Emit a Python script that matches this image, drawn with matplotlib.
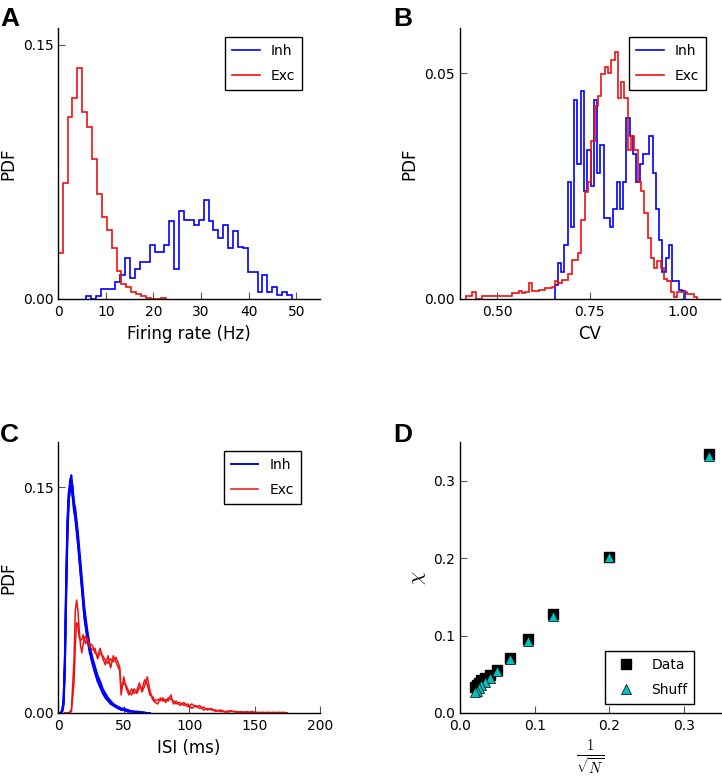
import numpy as np
import matplotlib
matplotlib.use("Agg")
import matplotlib.pyplot as plt

plt.rcParams['font.family'] = ['DejaVu Sans']
plt.rcParams['mathtext.fontset'] = 'cm'

# ---------------- Panel A: firing rate histograms ----------------
fr_bin_width = 1.03
fr_exc_start = -0.12
fr_exc_pdf = [0.0274, 0.0685, 0.1076, 0.1188, 0.1366, 0.1105, 0.1016, 0.0827, 0.0622,
              0.0487, 0.0409, 0.0300, 0.0168, 0.0089, 0.0069, 0.0043, 0.0030, 0.0020,
              0.0008, 0.0, 0.0, 0.0008]
fr_inh_start = 5.82
fr_inh_pdf = [0.002, 0.0, 0.002, 0.006, 0.006, 0.006, 0.0103, 0.0142, 0.024, 0.0122,
              0.018, 0.022, 0.022, 0.032, 0.028, 0.028, 0.032, 0.046, 0.018, 0.052,
              0.0468, 0.0468, 0.0438, 0.0468, 0.0582, 0.046, 0.0408, 0.0359, 0.0438,
              0.0304, 0.0399, 0.0306, 0.030, 0.0162, 0.0162, 0.004, 0.0142, 0.004,
              0.0069, 0.0024, 0.004, 0.0024]

# ---------------- Panel B: CV histograms ----------------
cv_exc_start = 0.416
cv_exc_width = 0.0089
cv_exc_pdf = [0.0007, 0.0007, 0.0016, 0.0, 0.0, 0.0007, 0.0007, 0.0007, 0.0007, 0.0007,
              0.0007, 0.0007, 0.0007, 0.0007, 0.0013, 0.0013, 0.0018, 0.0013, 0.0016, 0.0036,
              0.0018, 0.0018, 0.0020, 0.0020, 0.0024, 0.0024, 0.0027, 0.0040, 0.0036, 0.0042,
              0.0042, 0.0055, 0.0087, 0.0087, 0.0101, 0.0176, 0.0238, 0.0260, 0.0350, 0.0428,
              0.0450, 0.0498, 0.0513, 0.0500, 0.0530, 0.0547, 0.0446, 0.0480, 0.0446, 0.0330,
              0.0360, 0.0330, 0.0260, 0.0240, 0.0190, 0.0135, 0.0090, 0.0068, 0.0085, 0.0068,
              0.0044, 0.0039, 0.0015, 0.0005, 0.0016, 0.0016, 0.0016, 0.0012, 0.0012, 0.0005]
cv_inh_start = 0.655
cv_inh_width = 0.0088
cv_inh_pdf = [0.003, 0.008, 0.006, 0.012, 0.026, 0.016, 0.044, 0.030, 0.046, 0.024,
              0.033, 0.025, 0.044, 0.028, 0.034, 0.018, 0.018, 0.016, 0.020, 0.026,
              0.020, 0.026, 0.040, 0.036, 0.032, 0.026, 0.030, 0.032, 0.032, 0.036,
              0.028, 0.020, 0.013, 0.006, 0.009, 0.012, 0.004, 0.004, 0.002, 0.0017]

# ---------------- Panel C: ISI distributions ----------------
isi_inh_t = [0, 2, 3, 4, 5, 6, 7, 8, 9, 10, 11, 12, 13, 14, 15, 16, 17, 18, 19, 20,
             22, 24, 26, 28, 30, 32, 34, 36, 38, 40, 42, 44, 46, 48, 50, 53, 56, 60, 64, 68, 70]
isi_inh_1 = [0, 0, 0.001, 0.006, 0.030, 0.080, 0.122, 0.145, 0.155, 0.158, 0.148, 0.140, 0.136,
             0.128, 0.120, 0.110, 0.100, 0.090, 0.080, 0.070, 0.056, 0.045, 0.037, 0.031, 0.025,
             0.021, 0.016, 0.013, 0.010, 0.008, 0.006, 0.005, 0.004, 0.003, 0.003, 0.002, 0.001,
             0.001, 0.0005, 0, 0]
isi_inh_2 = [0, 0, 0.002, 0.009, 0.038, 0.090, 0.130, 0.147, 0.150, 0.151, 0.143, 0.134, 0.131,
             0.125, 0.116, 0.106, 0.096, 0.086, 0.076, 0.066, 0.054, 0.043, 0.035, 0.029, 0.024,
             0.019, 0.015, 0.012, 0.009, 0.007, 0.006, 0.004, 0.003, 0.003, 0.002, 0.002, 0.001,
             0.0005, 0, 0, 0]
isi_inh_3 = [0, 0, 0.001, 0.005, 0.026, 0.074, 0.116, 0.140, 0.152, 0.155, 0.150, 0.138, 0.133,
             0.124, 0.113, 0.104, 0.094, 0.084, 0.074, 0.064, 0.052, 0.042, 0.034, 0.027, 0.022,
             0.018, 0.014, 0.011, 0.009, 0.007, 0.005, 0.004, 0.004, 0.002, 0.002, 0.001, 0.001,
             0.0005, 0.0005, 0, 0]
isi_inh_4 = [0, 0, 0.002, 0.008, 0.034, 0.085, 0.125, 0.142, 0.148, 0.150, 0.144, 0.136, 0.128,
             0.120, 0.112, 0.102, 0.092, 0.082, 0.072, 0.062, 0.050, 0.040, 0.033, 0.027, 0.021,
             0.017, 0.013, 0.010, 0.008, 0.006, 0.005, 0.004, 0.003, 0.002, 0.002, 0.001, 0.001,
             0.0005, 0, 0, 0]

isi_exc_t = [5, 8, 10, 12, 13, 14, 15, 16, 17, 18, 19, 20, 21, 22,
             24, 26, 28, 30, 32, 34, 36, 38, 40, 42, 44, 46, 47, 48,
             50, 52, 54, 56, 58, 60, 62, 64, 66, 68, 70, 72, 74, 76, 78, 80, 82, 84, 86, 88, 90,
             93, 96, 99, 102, 105, 108, 111, 114, 117, 120,
             124, 128, 132, 136, 140, 144, 148, 152, 156, 160, 164, 168, 172, 175]
isi_exc_1 = [0, 0, 0.002, 0.035, 0.068, 0.075, 0.068, 0.055, 0.045, 0.040, 0.046, 0.050, 0.051, 0.048,
             0.046, 0.045, 0.040, 0.038, 0.043, 0.036, 0.032, 0.038, 0.030, 0.038, 0.034, 0.030, 0.028, 0.012,
             0.024, 0.016, 0.012, 0.016, 0.013, 0.015, 0.020, 0.014, 0.018, 0.024, 0.015, 0.009, 0.007,
             0.006, 0.010, 0.008, 0.009, 0.008, 0.012, 0.006, 0.008,
             0.005, 0.007, 0.004, 0.006, 0.004, 0.005, 0.002, 0.003, 0.002, 0.002,
             0.001, 0.001, 0.0015, 0.0005, 0.001, 0, 0.001, 0, 0.0005, 0, 0.0005, 0, 0.0005, 0]
isi_exc_2 = [0, 0, 0.001, 0.020, 0.045, 0.060, 0.058, 0.050, 0.048, 0.049, 0.052, 0.048, 0.046, 0.050,
             0.044, 0.042, 0.043, 0.036, 0.040, 0.038, 0.035, 0.033, 0.036, 0.034, 0.037, 0.033, 0.030, 0.016,
             0.020, 0.018, 0.014, 0.012, 0.016, 0.013, 0.017, 0.016, 0.022, 0.019, 0.012, 0.011, 0.008,
             0.009, 0.008, 0.010, 0.007, 0.010, 0.009, 0.008, 0.006,
             0.007, 0.005, 0.006, 0.003, 0.005, 0.003, 0.004, 0.002, 0.003, 0.001,
             0.002, 0.0005, 0.001, 0.001, 0, 0.001, 0, 0.0005, 0, 0.0005, 0, 0.0005, 0, 0]

# ---------------- Panel D: chi vs 1/sqrt(N) ----------------
inv_sqrt_n = [0.333, 0.2, 0.125, 0.0909, 0.0667, 0.05, 0.04, 0.0333, 0.0286, 0.025, 0.0222, 0.02]
chi_data = [0.334, 0.201, 0.128, 0.095, 0.071, 0.056, 0.049, 0.045, 0.042, 0.039, 0.036, 0.033]
chi_shuff = [0.332, 0.201, 0.125, 0.093, 0.070, 0.054, 0.045, 0.040, 0.036, 0.032, 0.029, 0.027]

BLUE = '#0000ff'
RED = '#ee1111'
CYAN = '#00bfbf'

W, H = 722, 780
fig = plt.figure(figsize=(W / 100, H / 100), dpi=100)


def px_axes(x0, x1, ytop, ybot):
    return fig.add_axes([x0 / W, 1 - ybot / H, (x1 - x0) / W, (ybot - ytop) / H])


def style(ax):
    for s in ('top', 'right'):
        ax.spines[s].set_visible(False)
    for s in ('left', 'bottom'):
        ax.spines[s].set_linewidth(1.0)
    ax.tick_params(direction='in', length=5, width=0.8, color='#555555',
                   labelsize=10, top=False, right=False)
    ax.tick_params(axis='x', pad=4.5)
    ax.tick_params(axis='y', pad=3.5)


def legend(ax, anchor=(1, 1), loc='upper right', **kw):
    lg = ax.legend(loc=loc, bbox_to_anchor=anchor, borderaxespad=0, fancybox=False,
                   edgecolor='black', framealpha=1, fontsize=10, borderpad=0.5,
                   labelspacing=0.8, handlelength=2.0, handletextpad=0.8, **kw)
    lg.get_frame().set_linewidth(1.0)
    return lg


def edges(start, width, n):
    return start + width * np.arange(n + 1)


# Panel A
axA = px_axes(58.3, 320, 28, 299)
axA.stairs(fr_inh_pdf, edges(fr_inh_start, fr_bin_width, len(fr_inh_pdf)),
           color=BLUE, lw=1.2, label='Inh')
axA.stairs(fr_exc_pdf, edges(fr_exc_start, fr_bin_width, len(fr_exc_pdf)),
           color=RED, lw=1.2, label='Exc')
axA.set_xlim(0, 55)
axA.set_ylim(0, 0.16)
axA.set_xticks([0, 10, 20, 30, 40, 50])
axA.set_yticks([0.0, 0.15])
axA.set_yticklabels(['0.00', '0.15'])
axA.set_xlabel('Firing rate (Hz)', fontsize=12)
axA.set_ylabel('PDF', fontsize=12, labelpad=4)
style(axA)
legend(axA, anchor=(0.931, 0.967))

# Panel B
axB = px_axes(459.9, 719.8, 28, 299)
axB.stairs(cv_inh_pdf, edges(cv_inh_start, cv_inh_width, len(cv_inh_pdf)),
           color=BLUE, lw=1.2, label='Inh')
axB.stairs(cv_exc_pdf, edges(cv_exc_start, cv_exc_width, len(cv_exc_pdf)),
           color=RED, lw=1.2, label='Exc')
axB.set_xlim(0.4, 1.1)
axB.set_ylim(0, 0.06)
axB.set_xticks([0.5, 0.75, 1.0])
axB.set_xticklabels(['0.50', '0.75', '1.00'])
axB.set_yticks([0.0, 0.05])
axB.set_yticklabels(['0.00', '0.05'])
axB.set_xlabel('CV', fontsize=12)
axB.set_ylabel('PDF', fontsize=12, labelpad=4)
style(axB)
legend(axB, anchor=(0.947, 0.966))

# Panel C
axC = px_axes(58.3, 320, 442, 713)
for i, tr in enumerate([isi_inh_1, isi_inh_2, isi_inh_3, isi_inh_4]):
    axC.plot(isi_inh_t, tr, color=BLUE, lw=1.4, label='Inh' if i == 0 else None)
for i, tr in enumerate([isi_exc_1, isi_exc_2]):
    axC.plot(isi_exc_t, tr, color=RED, lw=1.1, label='Exc' if i == 0 else None)
axC.set_xlim(0, 200)
axC.set_ylim(0, 0.18)
axC.set_xticks([0, 50, 100, 150, 200])
axC.set_yticks([0.0, 0.15])
axC.set_yticklabels(['0.00', '0.15'])
axC.set_xlabel('ISI (ms)', fontsize=12)
axC.set_ylabel('PDF', fontsize=12, labelpad=4)
style(axC)
legend(axC, anchor=(0.927, 0.967))

# Panel D
axD = px_axes(460, 721.3, 442, 713)
axD.plot(inv_sqrt_n, chi_data, linestyle='none', marker='s', ms=7.5, mfc='black',
         mec='black', label='Data')
axD.plot(inv_sqrt_n, chi_shuff, linestyle='none', marker='^', ms=7.5, mfc=CYAN,
         mec='black', mew=0.5, label='Shuff')
axD.set_xlim(0, 0.35)
axD.set_ylim(0, 0.35)
axD.set_xticks([0.0, 0.1, 0.2, 0.3])
axD.set_yticks([0.0, 0.1, 0.2, 0.3])
axD.set_xlabel(r'$\frac{1}{\sqrt{N}}$', fontsize=15)
axD.set_ylabel(r'$\chi$', fontsize=15)
style(axD)
legend(axD, anchor=(0.897, 0.033), loc='lower right', numpoints=1)

# Panel letters
for (x, y, s) in [(0, 26, 'A'), (393, 26, 'B'), (0, 442, 'C'), (393, 442, 'D')]:
    fig.text(x / W, 1 - y / H, s, fontsize=19, fontweight='bold',
             family=['Liberation Sans', 'DejaVu Sans'], ha='left', va='baseline')

fig.savefig('out.png', dpi=100)
